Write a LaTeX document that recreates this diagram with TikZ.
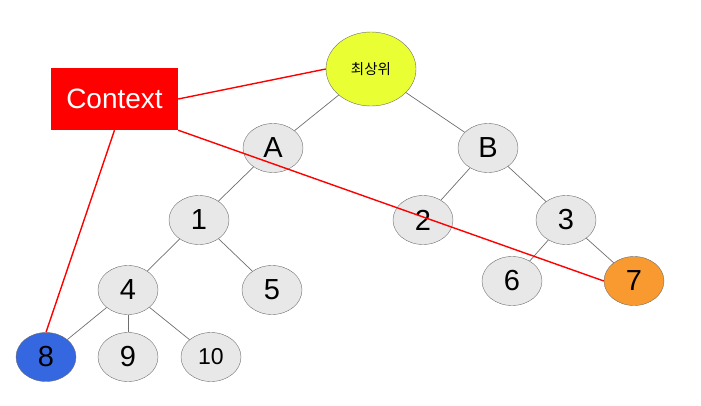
\documentclass[tikz,border=0pt]{standalone}
\usepackage{fontspec}
\setmainfont{Liberation Sans}
\newfontfamily\krfont{Noto Sans CJK KR}
\usetikzlibrary{shapes.geometric}
\definecolor{nodegray}{HTML}{E8E8E8}
\definecolor{edgegray}{HTML}{6E6E6E}
\definecolor{rootyellow}{HTML}{EAFF33}
\definecolor{leaforange}{HTML}{F99A30}
\definecolor{leafblue}{HTML}{3568E0}
\begin{document}
\begin{tikzpicture}[x=1pt,y=-1pt,
		tnode/.style={ellipse,draw=edgegray,fill=nodegray,minimum width=60pt,minimum height=49pt,inner sep=0pt,font=\fontsize{29}{29}\selectfont},
		tedge/.style={draw=edgegray,line width=0.7pt},
		ctxline/.style={draw=red,line width=1.4pt}]
			\useasboundingbox (0,0) rectangle (701,405);
			% tree
			\node[tnode,fill=rootyellow,minimum width=90pt,minimum height=74pt,font=\krfont\fontsize{14.5}{14.5}\selectfont] (top) at (371,69) {최상위};
			\node[tnode] (A) at (273,148) {A};
			\node[tnode] (B) at (488,148) {B};
			\node[tnode] (n1) at (199,220) {1};
			\node[tnode] (n2) at (423,220) {2};
			\node[tnode] (n3) at (566,220) {3};
			\node[tnode] (n4) at (128,290) {4};
			\node[tnode] (n5) at (272,290) {5};
			\node[tnode] (n6) at (512,281) {6};
			\node[tnode,fill=leaforange] (n7) at (634,281) {7};
			\node[tnode,fill=leafblue] (n8) at (46,357) {8};
			\node[tnode] (n9) at (128,357) {9};
			\node[tnode,font=\fontsize{23}{23}\selectfont] (n10) at (211,357) {10};
			\draw[tedge] (top) -- (A);
			\draw[tedge] (top) -- (B);
			\draw[tedge] (A) -- (n1);
			\draw[tedge] (B) -- (n2);
			\draw[tedge] (B) -- (n3);
			\draw[tedge] (n1) -- (n4);
			\draw[tedge] (n1) -- (n5);
			\draw[tedge] (n3) -- (n6);
			\draw[tedge] (n3) -- (n7);
			\draw[tedge] (n4) -- (n8);
			\draw[tedge] (n4) -- (n9);
			\draw[tedge] (n4) -- (n10);
			% context
			\node[fill=red,text=white,minimum width=127pt,minimum height=62pt,inner sep=0pt,font=\fontsize{28}{28}\selectfont] (ctx) at (114.5,99) {Context};
			\draw[ctxline] (ctx.east) -- (top.west);
			\draw[ctxline] (ctx.south) -- (n8.north);
			\draw[ctxline] (ctx.south east) -- (n7.west);
		\end{tikzpicture}
\end{document}
